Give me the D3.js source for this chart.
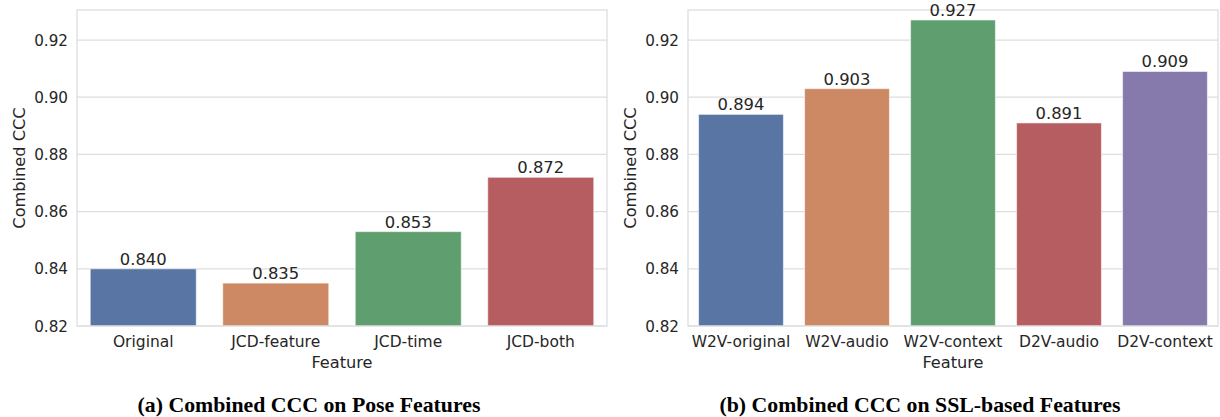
<!DOCTYPE html>
<html>
<head>
<meta charset="utf-8">
<script src="https://cdn.jsdelivr.net/npm/d3@7"></script>
<style>
  body { margin: 0; background: #fff; }
  svg { display: block; }
  text { font-family: "DejaVu Sans", sans-serif; fill: #262626; }
  .caption { font-family: "Liberation Serif", serif; font-weight: bold; }
</style>
</head>
<body>
<script>
// panel (a) pose features
var poseFeatures = ["Original", "JCD-feature", "JCD-time", "JCD-both"];
var poseCCC = [0.840, 0.835, 0.853, 0.872];
// panel (b) ssl features
var sslFeatures = ["W2V-original", "W2V-audio", "W2V-context", "D2V-audio", "D2V-context"];
var sslCCC = [0.894, 0.903, 0.927, 0.891, 0.909];
var yTicks = [0.82, 0.84, 0.86, 0.88, 0.90, 0.92];
var palette = ["#5975a4", "#cc8963", "#5f9e6e", "#b55d60", "#857aab"];

var W = 1220, H = 417;
var svg = d3.select("body").append("svg").attr("width", W).attr("height", H);

function panel(left, cats, vals, caption) {
  var top = 10, bottom = 326, pw = 530;
  var x = d3.scaleBand().domain(cats).range([left, left + pw]).paddingInner(0.2).paddingOuter(0.1);
  var y = d3.scaleLinear().domain([0.82, 0.9305]).range([bottom, top]);
  var g = svg.append("g");

  // grid
  g.selectAll("line.grid").data(yTicks).enter().append("line")
    .attr("x1", left).attr("x2", left + pw)
    .attr("y1", function (d) { return y(d); }).attr("y2", function (d) { return y(d); })
    .style("stroke", "#dedede").style("stroke-width", 1.2);

  // bars
  g.selectAll("rect").data(vals).enter().append("rect")
    .attr("x", function (d, i) { return x(cats[i]); })
    .attr("width", x.bandwidth())
    .attr("y", function (d) { return y(d); })
    .attr("height", function (d) { return y(0.82) - y(d); })
    .style("fill", function (d, i) { return palette[i]; })
    .style("stroke", "rgba(255,255,255,0.55)").style("stroke-width", 1);

  // frame
  g.append("rect").attr("x", left).attr("y", top).attr("width", pw).attr("height", bottom - top)
    .style("fill", "none").style("stroke", "#dedede").style("stroke-width", 1.3);

  // value labels
  g.selectAll("text.val").data(vals).enter().append("text")
    .attr("x", function (d, i) { return x(cats[i]) + x.bandwidth() / 2; })
    .attr("y", function (d) { return y(d) - 4; })
    .attr("text-anchor", "middle").style("font-size", "16.4px")
    .text(function (d) { return d.toFixed(3); });

  // y ticks
  g.selectAll("text.yt").data(yTicks).enter().append("text")
    .attr("x", left - 9).attr("y", function (d) { return y(d) + 5.5; })
    .attr("text-anchor", "end").style("font-size", "15.2px")
    .text(function (d) { return d.toFixed(2); });

  // x ticks
  g.selectAll("text.xt").data(cats).enter().append("text")
    .attr("x", function (d) { return x(d) + x.bandwidth() / 2; })
    .attr("y", 347)
    .attr("text-anchor", "middle").style("font-size", "15.5px")
    .text(function (d) { return d; });

  g.append("text").attr("x", left + pw / 2).attr("y", 368)
    .attr("text-anchor", "middle").style("font-size", "16.2px").text("Feature");

  g.append("text")
    .attr("transform", "translate(" + (left - 52) + "," + ((top + bottom) / 2) + ") rotate(-90)")
    .attr("text-anchor", "middle").style("font-size", "16.2px").text("Combined CCC");

  g.append("text").attr("class", "caption")
    .attr("x", left + pw / 2 - 33).attr("y", 411.5)
    .attr("text-anchor", "middle").style("font-size", "21.8px").style("fill", "#000")
    .text(caption);
}

panel(77, poseFeatures, poseCCC, "(a) Combined CCC on Pose Features");
panel(688, sslFeatures, sslCCC, "(b) Combined CCC on SSL-based Features");
</script>
</body>
</html>
